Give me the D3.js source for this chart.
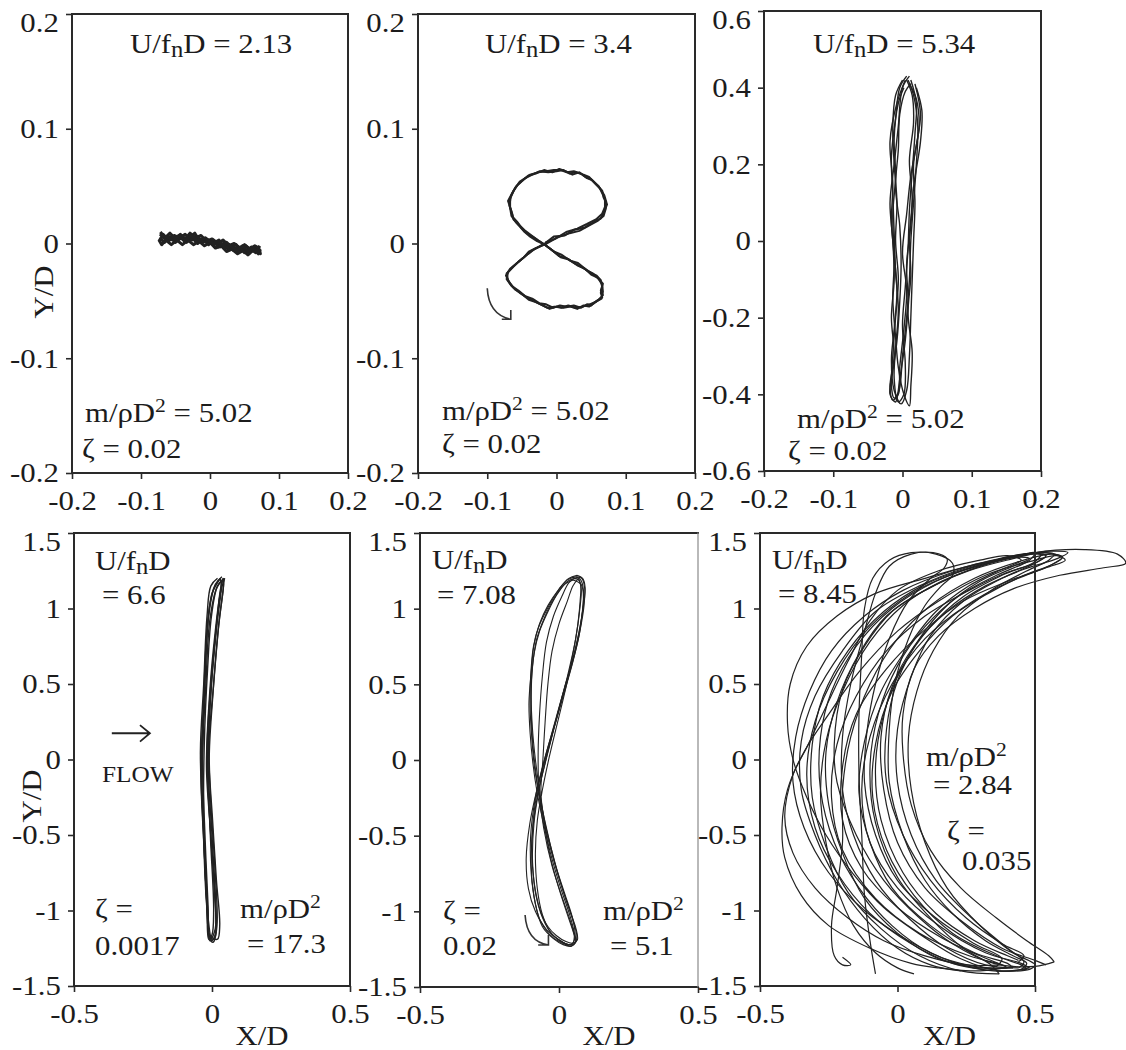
<!DOCTYPE html>
<html>
<head>
<meta charset="utf-8">
<script src="https://cdn.jsdelivr.net/npm/d3@7"></script>
<style>
  html, body { margin: 0; padding: 0; background: #fff; }
  svg { display: block; }
  text { font-family: "Liberation Serif", "Times New Roman", serif; fill: #1c1c1c; white-space: pre; }
</style>
</head>
<body>
<svg id="fig" width="1126" height="1050"></svg>
<script>
// ---------------- tick values and labels ----------------
const ticksSmall = [-0.2, -0.1, 0, 0.1, 0.2];
const labelsSmall = ["-0.2", "-0.1", "0", "0.1", "0.2"];
const ticksY06 = [-0.6, -0.4, -0.2, 0, 0.2, 0.4, 0.6];
const labelsY06 = ["-0.6", "-0.4", "-0.2", "0", "0.2", "0.4", "0.6"];
const ticksX05 = [-0.5, 0, 0.5];
const labelsX05 = ["-0.5", "0", "0.5"];
const ticksY15 = [-1.5, -1, -0.5, 0, 0.5, 1, 1.5];
const labelsY15 = ["-1.5", "-1", "-0.5", "0", "0.5", "1", "1.5"];

// ---------------- cylinder orbits, [X/D, Y/D] ----------------
// U/fnD = 2.13 : small in-line oscillation
const orbit213 = [
  [[-0.074,0.002],[-0.068,0.008],[-0.062,0.004],[-0.055,0.006],[-0.048,0.002],[-0.042,0.007],[-0.035,0.003],[-0.028,0.006],[-0.022,0.009],[-0.016,0.003],[-0.008,0.004],[0.0,0.0],[0.008,0.002],[0.015,-0.003],[0.022,0.001],[0.03,-0.004],[0.038,-0.001],[0.045,-0.006],[0.052,-0.002],[0.06,-0.007],[0.066,-0.003],[0.072,-0.006],
   [0.073,-0.009],[0.067,-0.005],[0.06,-0.003],[0.054,-0.008],[0.047,-0.004],[0.04,-0.007],[0.033,-0.002],[0.026,-0.005],[0.019,0.0],[0.012,-0.003],[0.005,0.003],[-0.002,-0.001],[-0.01,0.004],[-0.018,0.0],[-0.026,0.005],[-0.034,0.001],[-0.042,0.005],[-0.05,0.001],[-0.058,0.006],[-0.066,0.001],[-0.073,0.005]],
  [[-0.072,0.010],[-0.065,0.005],[-0.058,0.009],[-0.05,0.004],[-0.043,0.008],[-0.036,0.004],[-0.029,0.009],[-0.021,0.005],[-0.013,0.007],[-0.005,0.002],[0.003,0.004],[0.011,0.0],[0.019,0.003],[0.027,-0.002],[0.035,0.0],[0.043,-0.004],[0.05,-0.001],[0.058,-0.005],[0.065,-0.002],[0.071,-0.004],
   [0.07,-0.008],[0.062,-0.006],[0.055,-0.01],[0.048,-0.006],[0.04,-0.009],[0.032,-0.005],[0.024,-0.007],[0.016,-0.002],[0.008,-0.004],[0.0,0.001],[-0.008,-0.002],[-0.016,0.002],[-0.024,-0.001],[-0.032,0.003],[-0.04,-0.001],[-0.048,0.003],[-0.056,-0.001],[-0.064,0.003],[-0.07,-0.001],[-0.074,0.003]],
  [[-0.07,0.006],[-0.06,0.002],[-0.052,0.007],[-0.044,0.005],[-0.036,0.008],[-0.026,0.003],[-0.018,0.006],[-0.01,0.001],[-0.002,0.003],[0.006,-0.001],[0.014,0.001],[0.022,-0.004],[0.028,-0.001],[0.034,-0.006],[0.042,-0.003],[0.05,-0.008],[0.058,-0.004],[0.066,-0.008],[0.072,-0.002]],
  [[-0.073,0.008],[-0.064,0.006],[-0.054,0.003],[-0.045,0.007],[-0.037,0.002],[-0.027,0.007],[-0.017,0.002],[-0.007,0.005],[0.004,0.0],[0.013,0.003],[0.02,-0.003],[0.024,0.001],[0.031,-0.003],[0.039,-0.006],[0.047,-0.002],[0.055,-0.007],[0.063,-0.004],[0.07,-0.009],[0.073,-0.005]]
];

// U/fnD = 3.4 : figure-eight
const orbit34 = [
  [[-0.017,-0.001],[0.0,0.005],[0.019,0.009],[0.033,0.011],[0.048,0.016],[0.06,0.02],[0.068,0.024],[0.071,0.03],[0.072,0.036],[0.069,0.042],[0.063,0.048],[0.055,0.053],[0.047,0.058],[0.039,0.06],[0.028,0.062],[0.019,0.061],[0.01,0.064],[0.0,0.063],[-0.012,0.062],[-0.024,0.063],[-0.035,0.06],[-0.045,0.057],[-0.053,0.054],[-0.06,0.048],[-0.066,0.041],[-0.068,0.033],[-0.064,0.026],[-0.062,0.021],[-0.055,0.017],[-0.05,0.013],[-0.043,0.009],[-0.032,0.005],[-0.025,0.002],[-0.017,-0.001],
   [-0.008,-0.005],[0.004,-0.011],[0.015,-0.013],[0.028,-0.018],[0.038,-0.021],[0.048,-0.025],[0.058,-0.028],[0.064,-0.032],[0.066,-0.038],[0.064,-0.043],[0.066,-0.047],[0.058,-0.05],[0.05,-0.054],[0.044,-0.053],[0.035,-0.056],[0.025,-0.054],[0.015,-0.055],[0.005,-0.054],[-0.005,-0.056],[-0.015,-0.053],[-0.025,-0.052],[-0.035,-0.048],[-0.045,-0.046],[-0.055,-0.041],[-0.065,-0.037],[-0.072,-0.031],[-0.07,-0.025],[-0.062,-0.02],[-0.055,-0.016],[-0.047,-0.012],[-0.04,-0.007],[-0.03,-0.004],[-0.017,-0.001]],
  [[-0.017,0.0],[-0.004,0.006],[0.012,0.007],[0.026,0.012],[0.041,0.014],[0.055,0.019],[0.064,0.022],[0.069,0.028],[0.073,0.034],[0.068,0.04],[0.066,0.046],[0.058,0.051],[0.05,0.056],[0.042,0.058],[0.033,0.062],[0.023,0.06],[0.013,0.063],[0.004,0.065],[-0.006,0.062],[-0.018,0.064],[-0.03,0.061],[-0.041,0.059],[-0.049,0.055],[-0.058,0.05],[-0.064,0.044],[-0.07,0.037],[-0.066,0.03],[-0.063,0.023],[-0.057,0.019],[-0.052,0.015],[-0.045,0.011],[-0.036,0.007],[-0.027,0.003],[-0.015,-0.002],
   [-0.004,-0.007],[0.008,-0.01],[0.02,-0.015],[0.031,-0.017],[0.043,-0.023],[0.052,-0.026],[0.061,-0.031],[0.067,-0.035],[0.064,-0.041],[0.067,-0.045],[0.061,-0.049],[0.054,-0.052],[0.047,-0.055],[0.039,-0.054],[0.03,-0.057],[0.02,-0.055],[0.01,-0.056],[0.0,-0.055],[-0.01,-0.057],[-0.02,-0.054],[-0.03,-0.051],[-0.04,-0.049],[-0.05,-0.044],[-0.06,-0.04],[-0.068,-0.034],[-0.073,-0.028],[-0.067,-0.022],[-0.059,-0.018],[-0.051,-0.014],[-0.043,-0.01],[-0.035,-0.006],[-0.025,-0.003],[-0.016,0.0]],
  [[-0.016,0.001],[-0.002,0.004],[0.014,0.01],[0.03,0.013],[0.044,0.017],[0.057,0.021],[0.066,0.026],[0.07,0.032],[0.07,0.039],[0.065,0.045],[0.061,0.05],[0.052,0.055],[0.044,0.057],[0.035,0.061],[0.025,0.063],[0.015,0.062],[0.006,0.064],[-0.004,0.064],[-0.015,0.063],[-0.027,0.062],[-0.038,0.06],[-0.047,0.056],[-0.056,0.051],[-0.062,0.046],[-0.067,0.039],[-0.067,0.031],[-0.065,0.024],[-0.058,0.018],[-0.052,0.014],[-0.046,0.01],[-0.038,0.006],[-0.028,0.002],[-0.017,-0.001],
   [-0.006,-0.006],[0.006,-0.012],[0.018,-0.014],[0.03,-0.019],[0.041,-0.022],[0.05,-0.027],[0.06,-0.03],[0.066,-0.036],[0.067,-0.042],[0.065,-0.048],[0.056,-0.051],[0.048,-0.053],[0.038,-0.055],[0.028,-0.056],[0.017,-0.054],[0.007,-0.056],[-0.003,-0.055],[-0.013,-0.056],[-0.023,-0.053],[-0.033,-0.05],[-0.043,-0.047],[-0.053,-0.043],[-0.063,-0.038],[-0.07,-0.032],[-0.072,-0.026],[-0.064,-0.021],[-0.057,-0.017],[-0.049,-0.013],[-0.041,-0.009],[-0.032,-0.005],[-0.02,-0.001]]
];

// U/fnD = 5.34 : narrow cross-flow orbits
const orbit534 = [
  [[0.0,0.42],[-0.01,0.38],[-0.014,0.3],[-0.012,0.2],[-0.008,0.1],[-0.01,0.0],[-0.006,-0.1],[-0.01,-0.2],[-0.014,-0.3],[-0.016,-0.38],[-0.012,-0.41],[-0.005,-0.39],[0.0,-0.3],[0.006,-0.2],[0.01,-0.1],[0.012,0.0],[0.016,0.1],[0.02,0.2],[0.022,0.3],[0.016,0.38],[0.008,0.42]],
  [[0.006,0.43],[-0.004,0.4],[-0.01,0.32],[-0.016,0.22],[-0.014,0.12],[-0.012,0.02],[-0.01,-0.08],[-0.006,-0.18],[-0.01,-0.28],[-0.012,-0.36],[-0.006,-0.42],[0.002,-0.4],[0.004,-0.32],[0.0,-0.22],[0.004,-0.12],[0.008,-0.02],[0.01,0.08],[0.014,0.18],[0.018,0.28],[0.02,0.36],[0.012,0.42]],
  [[0.012,0.41],[0.004,0.39],[-0.004,0.33],[-0.006,0.24],[-0.01,0.14],[-0.004,0.04],[-0.002,-0.06],[-0.004,-0.16],[-0.008,-0.26],[-0.014,-0.34],[-0.018,-0.4],[-0.01,-0.42],[-0.004,-0.36],[0.004,-0.26],[0.008,-0.16],[0.006,-0.06],[0.012,0.04],[0.016,0.14],[0.026,0.26],[0.028,0.34],[0.02,0.4]],
  [[0.002,0.4],[-0.006,0.36],[-0.012,0.27],[-0.01,0.17],[-0.014,0.07],[-0.012,-0.03],[-0.008,-0.13],[-0.012,-0.23],[-0.016,-0.31],[-0.012,-0.39],[-0.002,-0.425],[0.006,-0.39],[0.01,-0.3],[0.012,-0.2],[0.014,-0.1],[0.016,0.0],[0.018,0.1],[0.016,0.2],[0.024,0.3],[0.02,0.37],[0.01,0.41]],
  [[0.004,0.42],[-0.008,0.36],[-0.018,0.26],[-0.014,0.15],[-0.016,0.05],[-0.012,-0.05],[-0.014,-0.15],[-0.01,-0.25],[-0.006,-0.33],[0.002,-0.4],[0.01,-0.43],[0.012,-0.38],[0.014,-0.29],[0.008,-0.19],[0.012,-0.09],[0.01,0.01],[0.014,0.11],[0.01,0.21],[0.016,0.31],[0.014,0.38],[0.006,0.42]],
  [[0.01,0.43],[0.0,0.4],[-0.006,0.3],[-0.012,0.2],[-0.018,0.1],[-0.014,0.0],[-0.012,-0.1],[-0.016,-0.2],[-0.012,-0.3],[-0.018,-0.38],[-0.014,-0.415],[-0.006,-0.4],[-0.004,-0.33],[0.002,-0.23],[0.006,-0.13],[0.0,-0.03],[0.006,0.07],[0.012,0.17],[0.02,0.25],[0.026,0.33],[0.018,0.41]]
];

// U/fnD = 6.6 : thin elongated loops
const orbit66 = [
  [[0.03,1.2],[0.005,1.12],[-0.015,0.9],[-0.026,0.5],[-0.038,0.0],[-0.03,-0.5],[-0.018,-1.0],[-0.012,-1.19],[0.0,-1.16],[0.006,-1.0],[-0.006,-0.5],[-0.016,0.0],[-0.002,0.5],[0.018,0.9],[0.034,1.15],[0.03,1.2]],
  [[0.04,1.19],[0.018,1.14],[-0.008,0.92],[-0.022,0.5],[-0.034,0.02],[-0.026,-0.48],[-0.014,-0.98],[-0.008,-1.2],[0.01,-1.18],[0.014,-1.0],[0.0,-0.5],[-0.014,0.0],[0.006,0.5],[0.026,0.92],[0.042,1.16],[0.04,1.19]],
  [[0.02,1.2],[-0.004,1.15],[-0.018,0.95],[-0.03,0.5],[-0.042,0.05],[-0.032,-0.45],[-0.02,-0.95],[-0.005,-1.19],[0.012,-1.12],[0.01,-0.9],[-0.004,-0.5],[-0.02,-0.05],[-0.008,0.45],[0.012,0.85],[0.03,1.1],[0.046,1.2]],
  [[0.036,1.21],[0.012,1.16],[-0.01,1.0],[-0.024,0.6],[-0.032,0.2],[-0.036,-0.2],[-0.026,-0.6],[-0.016,-1.0],[-0.01,-1.18],[0.004,-1.21],[0.018,-1.1],[0.01,-0.7],[-0.004,-0.3],[-0.012,0.1],[0.0,0.55],[0.02,0.95],[0.036,1.18]],
  [[0.026,1.19],[0.0,1.1],[-0.02,0.8],[-0.03,0.4],[-0.04,-0.1],[-0.028,-0.6],[-0.014,-1.05],[0.0,-1.2],[0.014,-1.14],[0.008,-0.85],[-0.008,-0.4],[-0.018,0.05],[-0.004,0.5],[0.016,0.88],[0.03,1.12],[0.04,1.2]],
  [[0.044,1.2],[0.02,1.15],[-0.002,0.95],[-0.016,0.6],[-0.028,0.1],[-0.03,-0.4],[-0.02,-0.9],[-0.006,-1.17],[0.02,-1.19],[0.028,-1.1],[0.016,-0.8],[0.002,-0.4],[-0.01,0.0],[0.002,0.4],[0.022,0.85],[0.04,1.12],[0.044,1.2]]
];

// U/fnD = 7.08 : tall figure-eight
const orbit708 = [
  [[0.06,1.21],[0.03,1.19],[-0.01,1.1],[-0.045,0.99],[-0.075,0.87],[-0.092,0.75],[-0.102,0.55],[-0.104,0.35],[-0.098,0.15],[-0.088,-0.05],[-0.072,-0.22],[-0.045,-0.45],[-0.015,-0.68],[0.02,-0.88],[0.048,-1.04],[0.058,-1.15],[0.05,-1.21],[0.03,-1.22],[0.0,-1.2],[-0.035,-1.15],[-0.07,-1.05],[-0.09,-0.9],[-0.1,-0.7],[-0.094,-0.45],[-0.076,-0.22],[-0.05,-0.02],[-0.02,0.2],[0.01,0.4],[0.045,0.62],[0.072,0.82],[0.085,1.0],[0.088,1.12],[0.078,1.19],[0.06,1.21]],
  [[0.055,1.2],[0.035,1.17],[0.01,1.08],[-0.02,0.95],[-0.045,0.78],[-0.06,0.55],[-0.07,0.3],[-0.075,0.05],[-0.072,-0.2],[-0.055,-0.45],[-0.025,-0.7],[0.01,-0.9],[0.04,-1.06],[0.055,-1.17],[0.045,-1.22],[0.02,-1.21],[-0.015,-1.17],[-0.05,-1.08],[-0.08,-0.92],[-0.095,-0.68],[-0.09,-0.42],[-0.07,-0.18],[-0.04,0.05],[-0.005,0.3],[0.03,0.55],[0.06,0.8],[0.075,1.0],[0.08,1.13],[0.07,1.19],[0.055,1.2]],
  [[0.065,1.22],[0.035,1.2],[0.0,1.13],[-0.04,1.02],[-0.07,0.9],[-0.09,0.76],[-0.1,0.58],[-0.108,0.38],[-0.104,0.18],[-0.094,-0.02],[-0.08,-0.2],[-0.058,-0.4],[-0.03,-0.62],[0.005,-0.84],[0.038,-1.02],[0.055,-1.14],[0.06,-1.2],[0.045,-1.23],[0.015,-1.22],[-0.02,-1.18],[-0.06,-1.1],[-0.085,-0.95],[-0.1,-0.75],[-0.102,-0.5],[-0.085,-0.25],[-0.06,-0.05],[-0.03,0.15],[0.005,0.38],[0.04,0.6],[0.07,0.83],[0.088,1.02],[0.094,1.14],[0.085,1.2],[0.065,1.22]],
  [[0.05,1.19],[0.02,1.16],[-0.02,1.06],[-0.05,0.95],[-0.08,0.8],[-0.095,0.62],[-0.1,0.42],[-0.096,0.22],[-0.086,0.02],[-0.07,-0.2],[-0.05,-0.42],[-0.02,-0.64],[0.012,-0.85],[0.04,-1.0],[0.062,-1.12],[0.066,-1.19],[0.05,-1.21],[0.025,-1.2],[-0.01,-1.16],[-0.04,-1.1],[-0.07,-0.98],[-0.09,-0.8],[-0.098,-0.58],[-0.09,-0.35],[-0.072,-0.15],[-0.045,0.05],[-0.012,0.26],[0.02,0.48],[0.055,0.7],[0.078,0.9],[0.088,1.06],[0.08,1.16],[0.05,1.19]],
  [[0.07,1.2],[0.05,1.15],[0.03,1.05],[0.0,0.9],[-0.025,0.72],[-0.04,0.5],[-0.05,0.25],[-0.058,0.0],[-0.065,-0.22],[-0.05,-0.45],[-0.03,-0.65],[0.0,-0.85],[0.03,-1.02],[0.052,-1.14],[0.06,-1.2],[0.04,-1.23],[0.01,-1.2],[-0.03,-1.14],[-0.06,-1.02],[-0.078,-0.85],[-0.085,-0.62],[-0.078,-0.4],[-0.06,-0.2],[-0.035,0.02],[-0.005,0.25],[0.025,0.48],[0.05,0.7],[0.068,0.9],[0.076,1.05],[0.078,1.16],[0.07,1.2]],
  [[0.062,1.2],[0.03,1.18],[-0.005,1.1],[-0.04,0.98],[-0.07,0.85],[-0.09,0.7],[-0.1,0.5],[-0.1,0.3],[-0.094,0.1],[-0.082,-0.1],[-0.07,-0.25],[-0.045,-0.48],[-0.01,-0.72],[0.025,-0.92],[0.05,-1.06],[0.064,-1.16],[0.058,-1.21],[0.035,-1.22],[0.0,-1.19],[-0.045,-1.12],[-0.085,-1.0],[-0.11,-0.85],[-0.118,-0.65],[-0.105,-0.42],[-0.08,-0.2],[-0.05,0.0],[-0.02,0.2],[0.015,0.42],[0.05,0.65],[0.075,0.85],[0.09,1.02],[0.092,1.14],[0.082,1.2],[0.062,1.21]]
];

// U/fnD = 8.45 : crescent orbits
const orbit845 = [
  [[0.57,-1.34],[0.5,-1.37],[0.35,-1.35],[0.2,-1.22],[0.08,-1.05],[-0.05,-0.8],[-0.15,-0.5],[-0.22,-0.15],[-0.23,0.1],[-0.2,0.46],[-0.12,0.75],[-0.02,0.98],[0.11,1.13],[0.3,1.28],[0.5,1.37],[0.68,1.39],[0.8,1.36],[0.83,1.3],[0.75,1.27],[0.59,1.22],[0.42,1.13],[0.28,1.0],[0.15,0.82],[0.06,0.6],[0.02,0.3],[0.02,0.04],[0.05,-0.3],[0.12,-0.6],[0.23,-0.85],[0.36,-1.05],[0.47,-1.2],[0.55,-1.3],[0.57,-1.34]],
  [[0.42,-1.37],[0.3,-1.4],[0.15,-1.38],[0.05,-1.35],[-0.1,-1.25],[-0.25,-1.1],[-0.35,-0.9],[-0.41,-0.65],[-0.42,-0.45],[-0.4,-0.2],[-0.34,0.05],[-0.25,0.3],[-0.14,0.58],[0.0,0.85],[0.15,1.05],[0.32,1.22],[0.48,1.31],[0.58,1.35],[0.61,1.32],[0.54,1.27],[0.4,1.17],[0.25,1.02],[0.1,0.8],[-0.02,0.5],[-0.1,0.15],[-0.13,-0.2],[-0.1,-0.55],[0.0,-0.85],[0.15,-1.1],[0.32,-1.28],[0.45,-1.35],[0.48,-1.38]],
  [[0.48,-1.38],[0.37,-1.4],[0.23,-1.32],[0.1,-1.18],[-0.05,-0.98],[-0.16,-0.76],[-0.26,-0.5],[-0.33,-0.25],[-0.38,0.0],[-0.4,0.24],[-0.39,0.5],[-0.33,0.75],[-0.22,0.95],[-0.08,1.1],[0.1,1.2],[0.3,1.3],[0.46,1.36],[0.54,1.35],[0.5,1.3],[0.4,1.24],[0.26,1.12],[0.1,0.95],[-0.04,0.72],[-0.15,0.42],[-0.22,0.1],[-0.24,-0.25],[-0.2,-0.6],[-0.08,-0.92],[0.08,-1.15],[0.26,-1.3],[0.38,-1.36],[0.4,-1.38]],
  [[0.4,-1.38],[0.28,-1.37],[0.12,-1.28],[-0.02,-1.1],[-0.14,-0.85],[-0.23,-0.55],[-0.28,-0.2],[-0.28,0.15],[-0.24,0.45],[-0.15,0.75],[-0.02,1.0],[0.14,1.18],[0.32,1.3],[0.46,1.36],[0.54,1.35],[0.5,1.3],[0.38,1.2],[0.24,1.05],[0.12,0.82],[0.05,0.55],[0.0,0.2],[0.0,-0.15],[0.05,-0.5],[0.14,-0.8],[0.27,-1.05],[0.4,-1.25],[0.46,-1.34],[0.44,-1.38]],
  [[0.44,-1.38],[0.32,-1.36],[0.18,-1.25],[0.04,-1.05],[-0.08,-0.8],[-0.16,-0.5],[-0.2,-0.2],[-0.2,0.15],[-0.17,0.5],[-0.12,0.85],[-0.08,1.1],[-0.03,1.28],[0.05,1.36],[0.13,1.37],[0.18,1.33],[0.17,1.27],[0.12,1.2],[0.04,1.05],[-0.03,0.8],[-0.08,0.5],[-0.11,0.2],[-0.12,-0.15],[-0.08,-0.5],[0.0,-0.8],[0.14,-1.05],[0.28,-1.22],[0.38,-1.32],[0.36,-1.37]],
  [[-0.08,-1.42],[-0.1,-1.2],[-0.12,-0.9],[-0.13,-0.5],[-0.14,-0.1],[-0.14,0.3],[-0.13,0.7],[-0.12,1.0],[-0.09,1.2],[-0.03,1.32],[0.05,1.37],[0.14,1.36],[0.2,1.3],[0.2,1.22],[0.16,1.15],[0.1,1.02],[0.04,0.8],[-0.01,0.5],[-0.03,0.2],[-0.03,-0.15],[0.02,-0.5],[0.1,-0.8],[0.2,-1.02],[0.32,-1.2],[0.42,-1.3],[0.47,-1.35],[0.45,-1.39]],
  [[-0.2,-1.31],[-0.17,-1.36],[-0.2,-1.36],[-0.23,-1.3],[-0.24,-1.1],[-0.22,-0.85],[-0.2,-0.55],[-0.2,-0.2],[-0.17,0.15],[-0.1,0.5],[0.0,0.8],[0.12,1.02],[0.28,1.2],[0.44,1.31],[0.56,1.36],[0.6,1.34],[0.56,1.29],[0.46,1.22],[0.33,1.1],[0.2,0.95],[0.08,0.72],[-0.02,0.45],[-0.08,0.1],[-0.09,-0.25],[-0.04,-0.6],[0.06,-0.9],[0.2,-1.15],[0.36,-1.3],[0.46,-1.37],[0.47,-1.39]],
  [[0.47,-1.39],[0.35,-1.4],[0.2,-1.34],[0.04,-1.2],[-0.12,-1.0],[-0.25,-0.75],[-0.34,-0.45],[-0.38,-0.15],[-0.37,0.15],[-0.32,0.45],[-0.24,0.72],[-0.12,0.95],[0.02,1.12],[0.2,1.25],[0.38,1.33],[0.52,1.37],[0.6,1.34],[0.55,1.28],[0.4,1.18],[0.24,1.05],[0.1,0.86],[-0.04,0.6],[-0.15,0.3],[-0.2,-0.05],[-0.2,-0.4],[-0.13,-0.72],[0.0,-0.98],[0.16,-1.18],[0.3,-1.3],[0.38,-1.36]],
  [[0.38,-1.36],[0.25,-1.36],[0.1,-1.3],[-0.05,-1.2],[-0.18,-1.05],[-0.3,-0.85],[-0.38,-0.62],[-0.41,-0.38],[-0.38,-0.1],[-0.33,0.08],[-0.26,0.35],[-0.18,0.65],[-0.1,0.92],[0.0,1.12],[0.15,1.25],[0.3,1.32],[0.4,1.35],[0.45,1.32],[0.38,1.26],[0.26,1.15],[0.14,0.98],[0.04,0.75],[-0.06,0.45],[-0.12,0.12],[-0.14,-0.22],[-0.1,-0.55],[-0.02,-0.85],[0.12,-1.1],[0.28,-1.28],[0.4,-1.35],[0.42,-1.38]],
  [[0.42,-1.38],[0.3,-1.38],[0.15,-1.32],[0.0,-1.15],[-0.12,-0.92],[-0.2,-0.62],[-0.25,-0.3],[-0.26,0.05],[-0.22,0.38],[-0.14,0.7],[-0.04,0.95],[0.1,1.12],[0.26,1.25],[0.42,1.33],[0.52,1.37],[0.57,1.36],[0.55,1.32],[0.46,1.24],[0.34,1.12],[0.22,0.95],[0.13,0.72],[0.07,0.45],[0.04,0.15],[0.05,-0.2],[0.1,-0.55],[0.18,-0.85],[0.3,-1.1],[0.42,-1.28],[0.5,-1.36],[0.48,-1.39],[0.36,-1.4]],
  [[0.31,-1.39],[0.2,-1.35],[0.05,-1.22],[-0.1,-1.02],[-0.22,-0.75],[-0.3,-0.45],[-0.33,-0.1],[-0.3,0.25],[-0.22,0.58],[-0.1,0.88],[0.05,1.1],[0.22,1.24],[0.4,1.33],[0.5,1.37],[0.48,1.32],[0.36,1.22],[0.22,1.08],[0.1,0.88],[0.0,0.62],[-0.07,0.3],[-0.1,-0.05],[-0.08,-0.42],[0.0,-0.78],[0.12,-1.05],[0.24,-1.25],[0.34,-1.36],[0.37,-1.42]],
  [[0.37,-1.42],[0.23,-1.4],[0.08,-1.3],[-0.06,-1.12],[-0.18,-0.88],[-0.26,-0.58],[-0.31,-0.25],[-0.31,0.1],[-0.27,0.42],[-0.18,0.72],[-0.05,0.98],[0.1,1.16],[0.28,1.28],[0.44,1.35],[0.56,1.38],[0.62,1.37],[0.58,1.33],[0.46,1.26],[0.32,1.15],[0.18,0.98],[0.06,0.75],[-0.02,0.48],[-0.06,0.15],[-0.05,-0.2],[0.0,-0.55],[0.1,-0.85],[0.24,-1.08],[0.38,-1.25],[0.5,-1.33],[0.54,-1.36]],
  [[0.06,-1.42],[0.0,-1.38],[-0.08,-1.28],[-0.16,-1.1],[-0.22,-0.85],[-0.26,-0.55],[-0.28,-0.22],[-0.26,0.12],[-0.2,0.45],[-0.1,0.78],[0.02,1.02],[0.16,1.18],[0.32,1.29],[0.44,1.34],[0.48,1.33],[0.42,1.28],[0.3,1.18],[0.18,1.02],[0.08,0.8],[0.0,0.52],[-0.04,0.2],[-0.04,-0.15],[0.02,-0.5],[0.12,-0.8],[0.25,-1.05],[0.38,-1.22],[0.46,-1.3],[0.44,-1.34]],
  [[0.23,-1.4],[0.12,-1.36],[0.0,-1.25],[-0.12,-1.05],[-0.22,-0.8],[-0.3,-0.5],[-0.35,-0.2],[-0.35,0.12],[-0.3,0.42],[-0.2,0.72],[-0.08,0.98],[0.08,1.15],[0.25,1.27],[0.42,1.34],[0.52,1.36],[0.5,1.31],[0.38,1.22],[0.24,1.08],[0.12,0.88],[0.02,0.62],[-0.05,0.3],[-0.08,-0.05],[-0.06,-0.4],[0.02,-0.75],[0.14,-1.02],[0.28,-1.2],[0.4,-1.3],[0.44,-1.33]]
];

// ---------------- annotation arrows (data units) ----------------
const turnArrow34 = { from: [-0.100, -0.039], ctrl: [-0.098, -0.062], tip: [-0.066, -0.066], armX: -0.079, armY: -0.058 };
const turnArrow708 = { from: [-0.122, -1.024], ctrl: [-0.116, -1.200], tip: [-0.038, -1.222], armX: -0.075, armY: -1.157 };
const flowArrow66 = { from: [-0.363, 0.174], tip: [-0.225, 0.174], armX: -0.261, armUp: 0.228, armDown: 0.118 };

// ---------------- drawing ----------------
const svg = d3.select("#fig");
const INK = "#222";
const SX = 1.1;          // horizontal stretch of the serif lettering
const FS = 28;           // main font size

function rich(g, str, x, y, size, anchor) {
  const t = g.append("text")
    .attr("transform", `translate(${x},${y}) scale(${SX},1)`)
    .attr("font-size", size)
    .attr("text-anchor", anchor || "start");
  const toks = str.split(/(_.|\^.)/).filter(s => s.length);
  let shift = 0;
  toks.forEach(tok => {
    if (tok.length === 2 && tok[0] === "_") {
      t.append("tspan").attr("dy", 4 - shift).attr("font-size", size * 0.8).text(tok[1]);
      shift = 4;
    } else if (tok.length === 2 && tok[0] === "^") {
      t.append("tspan").attr("dy", -10 - shift).attr("font-size", size * 0.7).text(tok[1]);
      shift = -10;
    } else {
      t.append("tspan").attr("dy", -shift).text(tok);
      shift = 0;
    }
  });
  return t;
}

const panels = [
  { series: orbit213, xDom: [-0.2, 0.2], yDom: [-0.2, 0.2], xT: ticksSmall, xL: labelsSmall, yT: ticksSmall, yL: labelsSmall,
    box: [72, 348, 14, 473], width: 3, curve: d3.curveLinear,
    notes: [["U/f_nD = 2.13", 130, 53], ["m/ρD^2 = 5.02", 85, 422], ["ζ = 0.02", 82, 458]], yLab: [43, 292] },
  { series: orbit34, xDom: [-0.2, 0.2], yDom: [-0.2, 0.2], xT: ticksSmall, xL: labelsSmall, yT: ticksSmall, yL: labelsSmall,
    box: [418, 695, 14, 473], width: 2, curve: d3.curveLinear, arrow: turnArrow34,
    notes: [["U/f_nD = 3.4", 485, 53], ["m/ρD^2 = 5.02", 442, 420], ["ζ = 0.02", 442, 453]] },
  { series: orbit534, xDom: [-0.2, 0.2], yDom: [-0.6, 0.6], xT: ticksSmall, xL: labelsSmall, yT: ticksY06, yL: labelsY06,
    box: [764, 1041, 11, 471], width: 1.4, curve: d3.curveCatmullRom,
    notes: [["U/f_nD = 5.34", 813, 53], ["m/ρD^2 = 5.02", 797, 428], ["ζ = 0.02", 788, 460]] },
  { series: orbit66, xDom: [-0.5, 0.5], yDom: [-1.5, 1.5], xT: ticksX05, xL: labelsX05, yT: ticksY15, yL: labelsY15,
    box: [74, 350, 533, 986], width: 1.4, curve: d3.curveCatmullRom, flow: flowArrow66,
    notes: [["U/f_nD", 95, 570], ["= 6.6", 102, 604], ["ζ =", 95, 918], ["0.0017", 95, 955], ["m/ρD^2", 240, 918], ["= 17.3", 247, 953]],
    yLab: [31, 796], xLab: 50 },
  { series: orbit708, xDom: [-0.5, 0.5], yDom: [-1.5, 1.5], xT: ticksX05, xL: labelsX05, yT: ticksY15, yL: labelsY15,
    box: [420, 698, 533, 987], width: 1.1, curve: d3.curveCatmullRom, arrow: turnArrow708, lightRight: true,
    notes: [["U/f_nD", 432, 569], ["= 7.08", 437, 604], ["ζ =", 443, 920], ["0.02", 443, 955], ["m/ρD^2", 603, 920], ["= 5.1", 610, 955]],
    xLab: 50 },
  { series: orbit845, xDom: [-0.5, 0.5], yDom: [-1.5, 1.5], xT: ticksX05, xL: labelsX05, yT: ticksY15, yL: labelsY15,
    box: [760, 1035, 533, 986], width: 1.2, curve: d3.curveCatmullRom,
    notes: [["U/f_nD", 772, 569], ["= 8.45", 778, 603], ["m/ρD^2", 926, 766], ["= 2.84", 933, 794], ["ζ =", 947, 840], ["0.035", 962, 870]],
    xLab: 52 }
];

panels.forEach(p => {
  const [x0, x1, y0, y1] = p.box;
  const x = d3.scaleLinear().domain(p.xDom).range([x0, x1]);
  const y = d3.scaleLinear().domain(p.yDom).range([y1, y0]);
  const g = svg.append("g");

  // orbits
  const line = d3.line().x(d => x(d[0])).y(d => y(d[1])).curve(p.curve);
  g.selectAll("path.orbit").data(p.series).join("path")
    .attr("class", "orbit")
    .attr("d", line)
    .attr("fill", "none")
    .attr("stroke", INK)
    .attr("stroke-width", p.width)
    .attr("stroke-linejoin", "round");

  // frame
  const sides = [
    [x0, y0, x1, y0, false], [x0, y1, x1, y1, false],
    [x0, y0, x0, y1, false], [x1, y0, x1, y1, !!p.lightRight]
  ];
  sides.forEach(s => {
    g.append("line").attr("x1", s[0]).attr("y1", s[1]).attr("x2", s[2]).attr("y2", s[3])
      .attr("stroke", s[4] ? "#8a8a8a" : "#2a2a2a")
      .attr("stroke-width", s[4] ? 1.2 : 2)
      .attr("stroke-linecap", "square");
  });

  // axes
  const yAxis = d3.axisLeft(y).tickValues(p.yT).tickFormat((d, i) => p.yL[i])
    .tickSize(6).tickSizeOuter(0).tickPadding(6);
  const gy = g.append("g").attr("transform", `translate(${x0},0)`).call(yAxis);
  const xAxis = d3.axisBottom(x).tickValues(p.xT).tickFormat((d, i) => p.xL[i])
    .tickSize(6).tickSizeOuter(0).tickPadding(11);
  const gx = g.append("g").attr("transform", `translate(0,${y1})`).call(xAxis);
  [gy, gx].forEach(a => {
    a.select(".domain").remove();
    a.selectAll(".tick line").attr("stroke", "#2a2a2a").attr("stroke-width", 1.6);
    a.selectAll(".tick text")
      .attr("font-size", FS)
      .attr("font-family", "Liberation Serif, Times New Roman, serif")
      .attr("fill", "#1c1c1c")
      .attr("transform", `scale(${SX},1)`);
  });
  // uppermost y label sits just under the top tick
  const topVal = p.yT[p.yT.length - 1];
  gy.selectAll(".tick").filter(d => d === topVal).select("text").attr("dy", "0.62em");

  // annotations
  p.notes.forEach(n => rich(g, n[0], n[1], n[2], FS, "start"));

  if (p.yLab) {
    g.append("text")
      .attr("transform", `translate(${p.yLab[0]},${p.yLab[1]}) rotate(-90) scale(${SX},1)`)
      .attr("text-anchor", "middle").attr("dy", "0.35em").attr("font-size", FS)
      .text("Y/D");
  }
  if (p.xLab) {
    g.append("text")
      .attr("transform", `translate(${x(0) + p.xLab},1045) scale(${SX},1)`)
      .attr("text-anchor", "middle").attr("font-size", FS)
      .text("X/D");
  }

  // curved direction arrow
  if (p.arrow) {
    const a = p.arrow;
    const path = d3.path();
    path.moveTo(x(a.from[0]), y(a.from[1]));
    path.quadraticCurveTo(x(a.ctrl[0]), y(a.ctrl[1]), x(a.tip[0]), y(a.tip[1]));
    path.moveTo(x(a.armX), y(a.tip[1]));
    path.lineTo(x(a.tip[0]), y(a.tip[1]));
    path.lineTo(x(a.tip[0]), y(a.armY));
    g.append("path").attr("d", path.toString()).attr("fill", "none")
      .attr("stroke", "#333").attr("stroke-width", 1.6);
  }

  // flow direction arrow with caption
  if (p.flow) {
    const f = p.flow;
    const path = d3.path();
    path.moveTo(x(f.from[0]), y(f.from[1]));
    path.lineTo(x(f.tip[0]), y(f.tip[1]));
    path.moveTo(x(f.armX), y(f.armUp));
    path.lineTo(x(f.tip[0]), y(f.tip[1]));
    path.lineTo(x(f.armX), y(f.armDown));
    g.append("path").attr("d", path.toString()).attr("fill", "none")
      .attr("stroke", "#222").attr("stroke-width", 1.8);
    rich(g, "FLOW", 102, 782, 23, "start");
  }
});
</script>
</body>
</html>
